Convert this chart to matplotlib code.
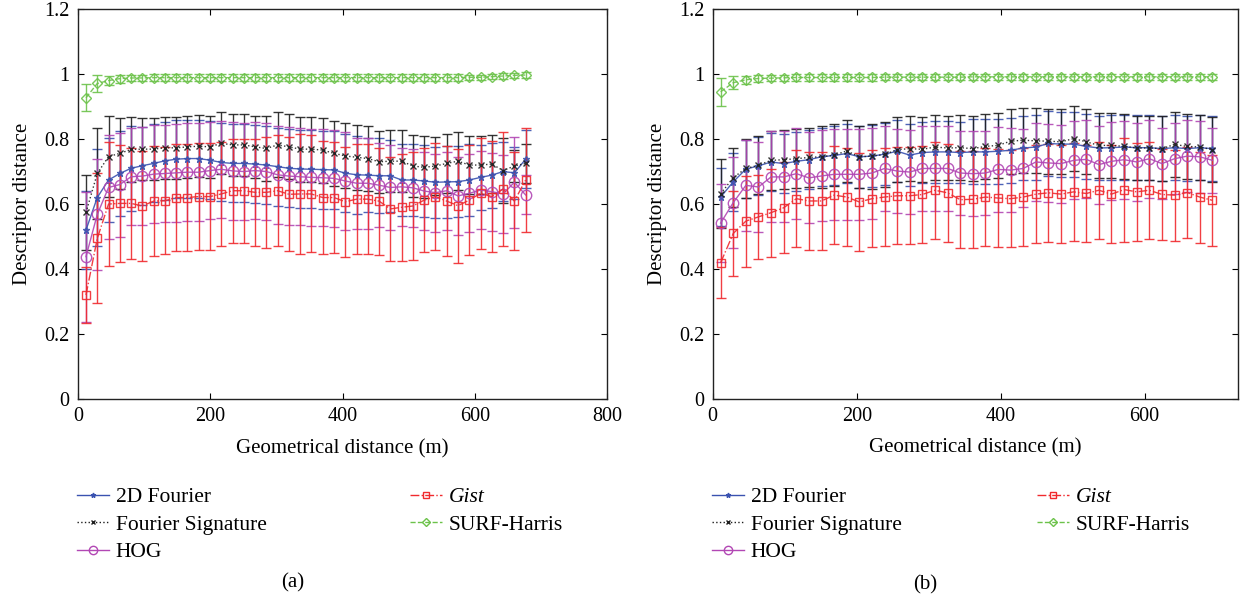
#!/usr/bin/env python3
"""Descriptor distance vs geometrical distance, two panels (a) and (b)."""

import matplotlib

matplotlib.use("Agg")
import matplotlib.pyplot as plt
import numpy as np
from matplotlib.lines import Line2D

plt.rcParams["font.family"] = ["Liberation Serif", "DejaVu Serif"]

# sample positions (m): 40 evenly spaced distance bins per panel
X_A = np.linspace(12, 677, 40)
X_B = np.linspace(11, 694, 40)

NAMES = ["2D Fourier", "Fourier Signature", "HOG", "Gist", "SURF-Harris"]

# ---- panel (a) ----
FOURIER2D_A = [0.52, 0.62, 0.674, 0.694, 0.71, 0.718, 0.725, 0.733, 0.738, 0.74,
               0.74, 0.735, 0.728, 0.725, 0.725, 0.723, 0.72, 0.715, 0.71, 0.708,
               0.707, 0.706, 0.705, 0.695, 0.69, 0.689, 0.687, 0.687, 0.674, 0.674,
               0.671, 0.667, 0.668, 0.669, 0.674, 0.682, 0.689, 0.70, 0.696, 0.738]
FOURIER2D_A_ERR = [0.12, 0.15, 0.13, 0.13, 0.13, 0.12, 0.12, 0.12, 0.12, 0.12,
                   0.12, 0.12, 0.12, 0.12, 0.12, 0.12, 0.12, 0.12, 0.12, 0.12,
                   0.12, 0.12, 0.12, 0.12, 0.12, 0.115, 0.115, 0.11, 0.11, 0.11,
                   0.11, 0.11, 0.11, 0.11, 0.11, 0.10, 0.10, 0.09, 0.08, 0.09]
FSIG_A = [0.574, 0.694, 0.746, 0.756, 0.768, 0.769, 0.769, 0.773, 0.773, 0.776,
          0.778, 0.776, 0.787, 0.782, 0.782, 0.776, 0.771, 0.782, 0.776, 0.769,
          0.769, 0.766, 0.756, 0.748, 0.744, 0.74, 0.73, 0.732, 0.732, 0.717,
          0.713, 0.717, 0.725, 0.732, 0.72, 0.72, 0.723, 0.703, 0.717, 0.725]
FSIG_A_ERR = [0.114, 0.14, 0.125, 0.11, 0.10, 0.095, 0.095, 0.095, 0.095, 0.095,
              0.095, 0.095, 0.095, 0.095, 0.095, 0.095, 0.10, 0.10, 0.10, 0.10,
              0.10, 0.10, 0.10, 0.10, 0.10, 0.10, 0.095, 0.095, 0.095, 0.095,
              0.095, 0.09, 0.09, 0.09, 0.09, 0.09, 0.09, 0.10, 0.05, 0.06]
HOG_A = [0.438, 0.568, 0.651, 0.66, 0.684, 0.686, 0.692, 0.694, 0.696, 0.698,
         0.698, 0.703, 0.707, 0.702, 0.70, 0.703, 0.70, 0.69, 0.686, 0.684,
         0.682, 0.681, 0.679, 0.671, 0.664, 0.664, 0.658, 0.651, 0.653, 0.65,
         0.64, 0.635, 0.641, 0.625, 0.633, 0.643, 0.638, 0.631, 0.667, 0.628]
HOG_A_ERR = [0.2, 0.17, 0.16, 0.16, 0.15, 0.15, 0.15, 0.15, 0.15, 0.15,
             0.15, 0.15, 0.15, 0.15, 0.15, 0.15, 0.15, 0.15, 0.15, 0.15,
             0.15, 0.15, 0.15, 0.15, 0.14, 0.14, 0.13, 0.13, 0.12, 0.12,
             0.12, 0.12, 0.12, 0.12, 0.12, 0.12, 0.12, 0.12, 0.14, 0.06]
GIST_A = [0.32, 0.494, 0.60, 0.602, 0.602, 0.594, 0.609, 0.61, 0.62, 0.62,
          0.623, 0.623, 0.631, 0.641, 0.641, 0.636, 0.636, 0.641, 0.63, 0.631,
          0.631, 0.62, 0.62, 0.607, 0.615, 0.615, 0.609, 0.585, 0.59, 0.594,
          0.612, 0.623, 0.609, 0.595, 0.612, 0.633, 0.623, 0.646, 0.609, 0.674]
GIST_A_ERR = [0.085, 0.2, 0.19, 0.18, 0.17, 0.17, 0.17, 0.165, 0.165, 0.165,
              0.165, 0.165, 0.16, 0.16, 0.16, 0.165, 0.17, 0.17, 0.175, 0.185,
              0.18, 0.175, 0.17, 0.17, 0.17, 0.17, 0.165, 0.16, 0.165, 0.165,
              0.16, 0.165, 0.17, 0.175, 0.17, 0.17, 0.17, 0.175, 0.15, 0.16]
SURF_A = [0.927, 0.971, 0.98, 0.986, 0.988, 0.988, 0.989, 0.989, 0.989, 0.989,
          0.989, 0.989, 0.989, 0.989, 0.989, 0.989, 0.989, 0.989, 0.989, 0.989,
          0.989, 0.989, 0.989, 0.989, 0.989, 0.989, 0.989, 0.989, 0.989, 0.989,
          0.989, 0.989, 0.989, 0.989, 0.99, 0.99, 0.992, 0.994, 0.996, 0.997]
SURF_A_ERR = [0.042, 0.025, 0.015, 0.012, 0.01, 0.01, 0.01, 0.01, 0.01, 0.01,
              0.01, 0.01, 0.01, 0.01, 0.01, 0.01, 0.01, 0.01, 0.01, 0.01,
              0.01, 0.01, 0.01, 0.01, 0.01, 0.01, 0.01, 0.01, 0.01, 0.01,
              0.01, 0.01, 0.01, 0.01, 0.008, 0.008, 0.008, 0.008, 0.008, 0.008]

# ---- panel (b) ----
FOURIER2D_B = [0.62, 0.667, 0.706, 0.716, 0.728, 0.723, 0.73, 0.735, 0.744, 0.748,
               0.754, 0.744, 0.746, 0.752, 0.761, 0.749, 0.757, 0.759, 0.759, 0.757,
               0.759, 0.759, 0.761, 0.764, 0.771, 0.774, 0.785, 0.783, 0.783, 0.776,
               0.771, 0.772, 0.774, 0.772, 0.772, 0.769, 0.772, 0.769, 0.772, 0.769]
FOURIER2D_B_ERR = [0.09, 0.09, 0.09, 0.09, 0.09, 0.09, 0.09, 0.09, 0.09, 0.09,
                   0.09, 0.095, 0.095, 0.095, 0.095, 0.095, 0.095, 0.095, 0.095, 0.095,
                   0.1, 0.1, 0.1, 0.1, 0.1, 0.1, 0.1, 0.1, 0.1, 0.1,
                   0.1, 0.1, 0.1, 0.1, 0.1, 0.1, 0.1, 0.1, 0.1, 0.1]
FSIG_B = [0.63, 0.68, 0.708, 0.718, 0.733, 0.735, 0.738, 0.742, 0.744, 0.749,
          0.762, 0.744, 0.746, 0.751, 0.766, 0.769, 0.767, 0.774, 0.771, 0.772,
          0.769, 0.776, 0.779, 0.792, 0.795, 0.793, 0.792, 0.79, 0.80, 0.79,
          0.779, 0.779, 0.776, 0.771, 0.771, 0.769, 0.782, 0.776, 0.774, 0.766]
FSIG_B_ERR = [0.106, 0.09, 0.09, 0.09, 0.09, 0.09, 0.09, 0.09, 0.095, 0.095,
              0.095, 0.095, 0.1, 0.1, 0.1, 0.1, 0.1, 0.1, 0.1, 0.1,
              0.1, 0.1, 0.1, 0.1, 0.1, 0.1, 0.1, 0.1, 0.1, 0.1,
              0.1, 0.1, 0.1, 0.1, 0.1, 0.1, 0.1, 0.1, 0.1, 0.1]
HOG_B = [0.54, 0.603, 0.656, 0.651, 0.682, 0.682, 0.692, 0.679, 0.685, 0.69,
         0.69, 0.69, 0.694, 0.708, 0.70, 0.697, 0.708, 0.708, 0.708, 0.694,
         0.692, 0.694, 0.705, 0.703, 0.708, 0.728, 0.725, 0.723, 0.733, 0.736,
         0.72, 0.73, 0.735, 0.728, 0.738, 0.723, 0.738, 0.746, 0.744, 0.733]
HOG_B_ERR = [0.12, 0.14, 0.14, 0.14, 0.14, 0.14, 0.14, 0.14, 0.14, 0.14,
             0.14, 0.14, 0.14, 0.13, 0.13, 0.13, 0.13, 0.13, 0.13, 0.13,
             0.13, 0.13, 0.13, 0.13, 0.12, 0.12, 0.12, 0.12, 0.12, 0.12,
             0.12, 0.12, 0.12, 0.12, 0.12, 0.11, 0.11, 0.11, 0.11, 0.10]
GIST_B = [0.418, 0.508, 0.546, 0.559, 0.572, 0.587, 0.615, 0.608, 0.608, 0.626,
          0.62, 0.605, 0.615, 0.62, 0.624, 0.624, 0.628, 0.641, 0.633, 0.612,
          0.613, 0.62, 0.617, 0.615, 0.62, 0.629, 0.633, 0.629, 0.636, 0.631,
          0.641, 0.629, 0.643, 0.636, 0.641, 0.628, 0.626, 0.634, 0.62, 0.61]
GIST_B_ERR = [0.11, 0.13, 0.14, 0.13, 0.135, 0.14, 0.15, 0.15, 0.15, 0.15,
              0.15, 0.15, 0.15, 0.15, 0.15, 0.15, 0.15, 0.15, 0.15, 0.15,
              0.15, 0.15, 0.15, 0.15, 0.15, 0.15, 0.15, 0.15, 0.15, 0.15,
              0.15, 0.15, 0.16, 0.15, 0.15, 0.14, 0.14, 0.14, 0.14, 0.14]
SURF_B = [0.944, 0.972, 0.981, 0.985, 0.986, 0.987, 0.988, 0.988, 0.988, 0.988,
          0.988, 0.988, 0.988, 0.989, 0.989, 0.989, 0.989, 0.989, 0.989, 0.989,
          0.99, 0.99, 0.99, 0.99, 0.99, 0.99, 0.99, 0.99, 0.99, 0.99,
          0.99, 0.99, 0.99, 0.99, 0.99, 0.99, 0.99, 0.99, 0.99, 0.99]
SURF_B_ERR = [0.043, 0.02, 0.012, 0.01, 0.01, 0.01, 0.01, 0.01, 0.01, 0.01,
              0.01, 0.01, 0.01, 0.01, 0.01, 0.01, 0.01, 0.01, 0.01, 0.01,
              0.01, 0.01, 0.01, 0.01, 0.01, 0.01, 0.01, 0.01, 0.01, 0.01,
              0.01, 0.01, 0.01, 0.01, 0.01, 0.01, 0.01, 0.01, 0.01, 0.01]

COLORS = ["#3a52b0", "#1e1e1e", "#b247b4", "#f02a2e", "#6cc24a"]
LINESTYLES = ["-", ":", "-", "-.", "--"]
MARKERS = ["*", "x", "o", "s", "D"]
MSIZES = [5, 5, 7.5, 6, 5.5]


def draw_panel(ax, x, series, errors, xmax, xticks):
    for i, (y, e) in enumerate(zip(series, errors)):
        ax.errorbar(x, y, yerr=e, color=COLORS[i], ls=LINESTYLES[i], lw=1.0,
                    marker=MARKERS[i], ms=MSIZES[i], mfc="none", mew=1.0,
                    capsize=3.5, elinewidth=1.0, capthick=1.0, alpha=0.9)
    ax.set_xlim(0, xmax)
    ax.set_ylim(0, 1.2)
    ax.set_xticks(xticks)
    ax.set_yticks([0, 0.2, 0.4, 0.6, 0.8, 1.0, 1.2])
    ax.set_yticklabels(["0", "0.2", "0.4", "0.6", "0.8", "1", "1.2"])
    ax.tick_params(direction="in", top=True, right=True, length=4, labelsize=14.5,
                   width=0.8, pad=6)
    for sp in ax.spines.values():
        sp.set_linewidth(1.0)
        sp.set_color("#222222")
    ax.set_xlabel("Geometrical distance (m)", fontsize=15, labelpad=9)
    ax.set_ylabel("Descriptor distance", fontsize=15, labelpad=9)


def add_legend(ax, fig, x0, x1, y0):
    handles = []
    for i, name in enumerate(NAMES):
        handles.append(Line2D([], [], color=COLORS[i], ls=LINESTYLES[i], lw=1.0,
                              marker=MARKERS[i], ms=MSIZES[i] - 1.5, mfc="none"))
    labels = list(NAMES)
    kw = dict(frameon=False, fontsize=15.5, handlelength=1.5, handletextpad=0.3,
              labelspacing=0.34, loc="upper left", bbox_transform=fig.transFigure,
              borderaxespad=0, borderpad=0)
    leg1 = ax.legend(handles[:3], labels[:3], bbox_to_anchor=(x0, y0), **kw)
    ax.add_artist(leg1)
    leg2 = ax.legend(handles[3:], labels[3:], bbox_to_anchor=(x1, y0), **kw)
    leg2.get_texts()[0].set_style("italic")


def main():
    fig = plt.figure(figsize=(12.43, 5.98), dpi=100)
    ax_a = fig.add_axes([0.0628, 0.3328, 0.4255, 0.652])
    ax_b = fig.add_axes([0.5734, 0.3336, 0.4228, 0.652])

    draw_panel(ax_a, X_A, [FOURIER2D_A, FSIG_A, HOG_A, GIST_A, SURF_A],
               [FOURIER2D_A_ERR, FSIG_A_ERR, HOG_A_ERR, GIST_A_ERR, SURF_A_ERR],
               800, [0, 200, 400, 600, 800])
    draw_panel(ax_b, X_B, [FOURIER2D_B, FSIG_B, HOG_B, GIST_B, SURF_B],
               [FOURIER2D_B_ERR, FSIG_B_ERR, HOG_B_ERR, GIST_B_ERR, SURF_B_ERR],
               730, [0, 200, 400, 600])

    add_legend(ax_a, fig, 0.0619, 0.3298, 0.185)
    add_legend(ax_b, fig, 0.5728, 0.8343, 0.185)

    fig.text(0.2357, 0.025, "(a)", ha="center", va="center", fontsize=15)
    fig.text(0.7445, 0.022, "(b)", ha="center", va="center", fontsize=15)

    fig.savefig("out.png", dpi=100)
    plt.close(fig)


if __name__ == "__main__":
    main()
